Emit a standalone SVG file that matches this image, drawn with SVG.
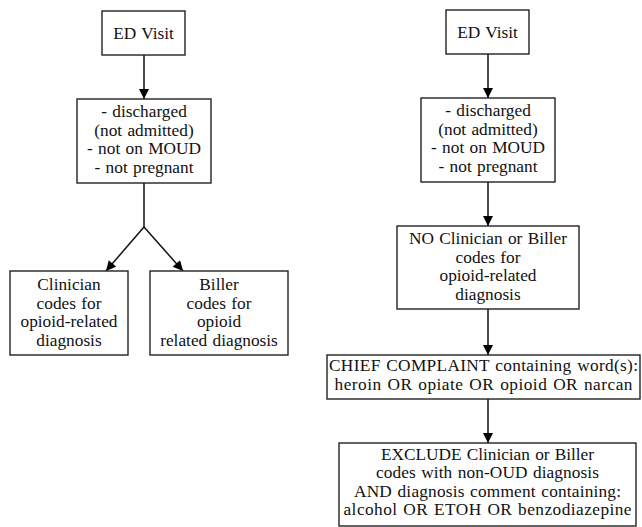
<svg xmlns="http://www.w3.org/2000/svg" width="642" height="527" viewBox="0 0 642 527">
<style>
.box{fill:#fff;stroke:#222;stroke-width:1.4}
.t{font-family:'Liberation Serif','Times New Roman','DejaVu Serif',serif;font-size:17.3px;word-spacing:1px;fill:#111;text-anchor:middle}
.e{stroke:#111;stroke-width:1.5;fill:none}
</style>
<defs>
<marker id="ah" viewBox="0 0 10 10" refX="10" refY="5" markerWidth="11" markerHeight="10" markerUnits="userSpaceOnUse" orient="auto">
<path d="M0,0 L10,5 L0,10 z" fill="#000"/>
</marker>
</defs>
<rect width="642" height="527" fill="#fff"/>
<g id="connectors">
<line class="e" x1="144" y1="55" x2="144" y2="99" marker-end="url(#ah)"/>
<line class="e" x1="144" y1="183" x2="144" y2="227"/>
<line class="e" x1="144" y1="227" x2="106" y2="271" marker-end="url(#ah)"/>
<line class="e" x1="144" y1="227" x2="183" y2="271" marker-end="url(#ah)"/>
<line class="e" x1="488" y1="54" x2="488" y2="98" marker-end="url(#ah)"/>
<line class="e" x1="488" y1="182" x2="488" y2="226" marker-end="url(#ah)"/>
<line class="e" x1="488" y1="309" x2="488" y2="355" marker-end="url(#ah)"/>
<line class="e" x1="488" y1="399" x2="488" y2="443" marker-end="url(#ah)"/>
</g>
<g id="l_ed">
<rect class="box" x="102" y="11" width="83" height="44"/>
<text class="t" x="143.5" y="38.5">ED Visit</text>
</g>
<g id="l_filter">
<rect class="box" x="77" y="99" width="134" height="84"/>
<text class="t" x="144" y="117">- discharged</text>
<text class="t" x="144" y="135.5">(not admitted)</text>
<text class="t" x="144" y="154">- not on MOUD</text>
<text class="t" x="144" y="172.5">- not pregnant</text>
</g>
<g id="l_clin">
<rect class="box" x="10" y="271" width="118" height="84"/>
<text class="t" x="69" y="290">Clinician</text>
<text class="t" x="69" y="308.5">codes for</text>
<text class="t" x="69" y="327">opioid-related</text>
<text class="t" x="69" y="345.5">diagnosis</text>
</g>
<g id="l_bill">
<rect class="box" x="150" y="271" width="138" height="84"/>
<text class="t" x="219" y="290">Biller</text>
<text class="t" x="219" y="308.5">codes for</text>
<text class="t" x="219" y="327">opioid</text>
<text class="t" x="219" y="345.5">related diagnosis</text>
</g>
<g id="r_ed">
<rect class="box" x="446" y="10" width="83" height="44"/>
<text class="t" x="487.5" y="37.5">ED Visit</text>
</g>
<g id="r_filter">
<rect class="box" x="421" y="98" width="134" height="84"/>
<text class="t" x="488" y="116">- discharged</text>
<text class="t" x="488" y="134.5">(not admitted)</text>
<text class="t" x="488" y="153">- not on MOUD</text>
<text class="t" x="488" y="171.5">- not pregnant</text>
</g>
<g id="r_nocodes">
<rect class="box" x="397" y="226" width="182" height="83"/>
<text class="t" x="488" y="244">NO Clinician or Biller</text>
<text class="t" x="488" y="262.5">codes for</text>
<text class="t" x="488" y="281">opioid-related</text>
<text class="t" x="488" y="299.5">diagnosis</text>
</g>
<g id="r_chief">
<rect class="box" x="327" y="355" width="313" height="44"/>
<text class="t" x="483.5" y="371" textLength="309" lengthAdjust="spacing">CHIEF COMPLAINT containing word(s):</text>
<text class="t" x="483.5" y="389.5" textLength="298" lengthAdjust="spacing">heroin OR opiate OR opioid OR narcan</text>
</g>
<g id="r_exclude">
<rect class="box" x="339" y="443" width="297" height="83"/>
<text class="t" x="487.5" y="459.5" textLength="213" lengthAdjust="spacing">EXCLUDE Clinician or Biller</text>
<text class="t" x="487.5" y="478" textLength="223" lengthAdjust="spacing">codes with non-OUD diagnosis</text>
<text class="t" x="487.5" y="496.5" textLength="267" lengthAdjust="spacing">AND diagnosis comment containing:</text>
<text class="t" x="487.5" y="515" textLength="288" lengthAdjust="spacing">alcohol OR ETOH OR benzodiazepine</text>
</g>
</svg>
